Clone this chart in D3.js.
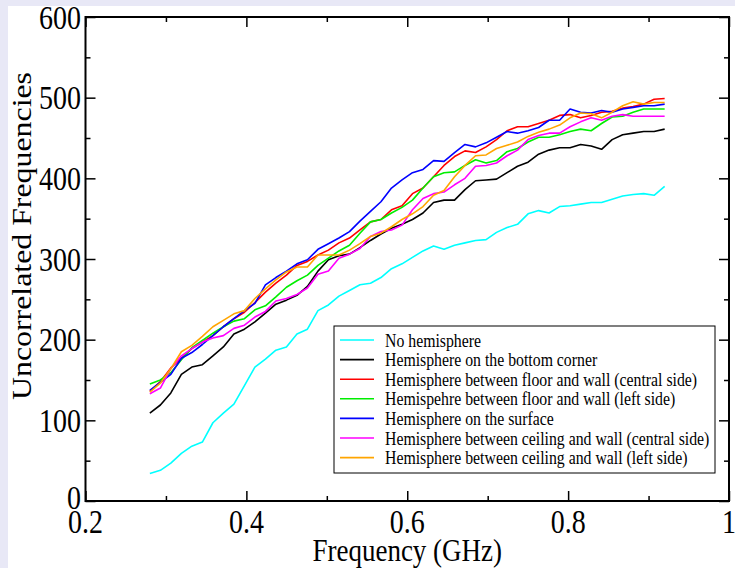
<!DOCTYPE html>
<html>
<head>
<meta charset="utf-8">
<script src="https://cdn.jsdelivr.net/npm/d3@7"></script>
<style>
  html, body { margin: 0; padding: 0; background: #e8e8f6; }
  svg { display: block; }
</style>
</head>
<body>
<div id="chart"></div>
<script>
// ---- data ----
const freqs = [0.2800, 0.2931, 0.3061, 0.3192, 0.3322, 0.3453, 0.3584, 0.3714, 0.3845, 0.3976,
  0.4106, 0.4237, 0.4367, 0.4498, 0.4629, 0.4759, 0.4890, 0.5020, 0.5151, 0.5282,
  0.5412, 0.5543, 0.5673, 0.5804, 0.5935, 0.6065, 0.6196, 0.6327, 0.6457, 0.6588,
  0.6718, 0.6849, 0.6980, 0.7110, 0.7241, 0.7371, 0.7502, 0.7633, 0.7763, 0.7894,
  0.8024, 0.8155, 0.8286, 0.8416, 0.8547, 0.8678, 0.8808, 0.8939, 0.9069, 0.9200];

const noHemisphere = [34, 38, 47, 59, 68, 73, 97, 109, 120, 143,
  166, 176, 187, 191, 207, 213, 236, 243, 254, 261,
  268, 270, 277, 288, 294, 302, 310, 316, 312, 317,
  320, 323, 324, 333, 339, 343, 356, 360, 357, 365,
  366, 368, 370, 370, 374, 378, 380, 381, 379, 390];

const bottomCorner = [109, 119, 134, 157, 166, 169, 180, 191, 207, 213,
  222, 233, 244, 249, 255, 266, 285, 299, 304, 306,
  314, 323, 331, 338, 343, 349, 357, 370, 373, 373,
  386, 397, 398, 399, 407, 415, 420, 430, 435, 438,
  438, 442, 440, 436, 448, 454, 456, 458, 458, 461];

const floorCentral = [136, 148, 165, 177, 189, 197, 205, 216, 226, 234,
  246, 259, 270, 280, 292, 297, 305, 311, 320, 326,
  336, 346, 349, 361, 366, 381, 388, 402, 416, 427,
  434, 432, 439, 448, 459, 464, 464, 468, 472, 478,
  479, 475, 478, 482, 483, 487, 489, 492, 498, 499];

const floorLeft = [145, 150, 159, 175, 190, 199, 208, 216, 223, 226,
  237, 242, 253, 265, 273, 280, 292, 301, 310, 317,
  332, 346, 349, 357, 364, 373, 388, 402, 407, 408,
  416, 423, 419, 422, 433, 437, 445, 451, 451, 454,
  458, 461, 459, 468, 476, 477, 482, 486, 486, 486];

const onSurface = [137, 147, 157, 177, 184, 194, 205, 216, 226, 236,
  245, 268, 277, 285, 294, 299, 312, 319, 326, 334,
  347, 359, 371, 388, 398, 407, 411, 422, 421, 432,
  442, 439, 444, 451, 458, 456, 459, 463, 472, 472,
  486, 482, 481, 484, 482, 486, 488, 490, 490, 492];

const ceilingCentral = [133, 140, 164, 180, 189, 197, 202, 205, 214, 218,
  228, 235, 248, 251, 256, 264, 281, 285, 301, 306,
  313, 328, 334, 336, 342, 361, 375, 381, 383, 392,
  400, 415, 416, 419, 428, 435, 448, 453, 456, 456,
  464, 470, 475, 472, 477, 479, 477, 477, 477, 477];

const ceilingLeft = [135, 146, 164, 185, 193, 204, 216, 224, 232, 236,
  251, 263, 274, 284, 290, 290, 305, 305, 305, 311,
  319, 328, 332, 340, 349, 356, 365, 379, 385, 402,
  416, 428, 429, 437, 441, 445, 452, 457, 461, 466,
  475, 481, 480, 475, 482, 490, 495, 492, 494, 494];

const seriesNames = [
  "No hemisphere",
  "Hemisphere on the bottom corner",
  "Hemisphere between floor and wall (central side)",
  "Hemispehre between floor and wall (left side)",
  "Hemisphere on the surface",
  "Hemisphere between ceiling and wall (central side)",
  "Hemisphere between ceiling and wall (left side)"
];
const seriesValues = [noHemisphere, bottomCorner, floorCentral, floorLeft, onSurface, ceilingCentral, ceilingLeft];
const seriesColors = ["#00ffff", "#000000", "#ff0000", "#00ee00", "#0000ff", "#ff00ff", "#ffa500"];

const xTicks = [0.2, 0.4, 0.6, 0.8, 1];
const xMinor = [0.3, 0.5, 0.7, 0.9];
const yTicks = [0, 100, 200, 300, 400, 500, 600];
const yMinor = [50, 150, 250, 350, 450, 550];

// ---- layout ----
const W = 735, H = 568;
const plotL = 85.5, plotR = 729, plotT = 17, plotB = 501;
const font = "'Liberation Serif', 'DejaVu Serif', serif";
const stretch = 1.18; // the original text is drawn taller than wide

const svg = d3.select("#chart").append("svg").attr("width", W).attr("height", H);

svg.append("rect").attr("x", 8).attr("y", 6).attr("width", W - 8).attr("height", H - 6).attr("fill", "#fff");

const x = d3.scaleLinear().domain([0.2, 1]).range([plotL, plotR]);
const y = d3.scaleLinear().domain([0, 600]).range([plotB, plotT]);

// data lines (drawn first, frame over them)
const line = d3.line().x((d, i) => x(freqs[i])).y(d => y(d));
seriesValues.forEach((vals, k) => {
  svg.append("path")
    .datum(vals)
    .attr("d", line)
    .attr("fill", "none")
    .attr("stroke", seriesColors[k])
    .attr("stroke-width", 1.6)
    .attr("stroke-linejoin", "round");
});

// inward ticks on all four sides
function tickAxis(axisFn, scale, ticks, size, pos) {
  const g = svg.append("g").attr("transform", pos)
    .call(axisFn(scale).tickValues(ticks).tickSize(size).tickFormat(""));
  g.select(".domain").remove();
  g.selectAll(".tick line").attr("stroke", "#000").attr("stroke-width", 1.5);
}
tickAxis(d3.axisTop, x, xTicks, 10, `translate(0,${plotB})`);
tickAxis(d3.axisTop, x, xMinor, 5, `translate(0,${plotB})`);
tickAxis(d3.axisBottom, x, xTicks, 10, `translate(0,${plotT})`);
tickAxis(d3.axisBottom, x, xMinor, 5, `translate(0,${plotT})`);
tickAxis(d3.axisRight, y, yTicks, 10, `translate(${plotL},0)`);
tickAxis(d3.axisRight, y, yMinor, 5, `translate(${plotL},0)`);
tickAxis(d3.axisLeft, y, yTicks, 10, `translate(${plotR},0)`);
tickAxis(d3.axisLeft, y, yMinor, 5, `translate(${plotR},0)`);

// tick labels
const fmtX = d => d === 1 ? "1" : d3.format(".1f")(d);
svg.append("g").selectAll("text").data(xTicks).join("text")
  .attr("transform", d => `translate(${x(d)},521) scale(1,${stretch})`)
  .attr("text-anchor", "middle").attr("dy", "0.35em")
  .attr("font-family", font).attr("font-size", 28)
  .text(fmtX);

svg.append("g").selectAll("text").data(yTicks).join("text")
  .attr("transform", d => `translate(81,${d === 0 ? y(d) - 4 : y(d)}) scale(1,${stretch})`)
  .attr("text-anchor", "end").attr("dy", "0.35em")
  .attr("font-family", font).attr("font-size", 28)
  .text(d3.format("d"));

// frame
svg.append("rect")
  .attr("x", plotL).attr("y", plotT)
  .attr("width", plotR - plotL).attr("height", plotB - plotT)
  .attr("fill", "none").attr("stroke", "#000").attr("stroke-width", 2);

// axis titles
svg.append("text")
  .attr("transform", `translate(${(plotL + plotR) / 2},561) scale(1,${stretch})`)
  .attr("text-anchor", "middle")
  .attr("font-family", font).attr("font-size", 27)
  .text("Frequency (GHz)");

svg.append("text")
  .attr("transform", `translate(31,236) scale(1,${stretch}) rotate(-90)`)
  .attr("text-anchor", "middle")
  .attr("font-family", font).attr("font-size", 27)
  .text("Uncorrelated Frequencies");

// legend
const lg = svg.append("g").attr("transform", "translate(334,326)");
lg.append("rect")
  .attr("width", 381).attr("height", 147)
  .attr("fill", "#fff").attr("stroke", "#000").attr("stroke-width", 1);
seriesNames.forEach((name, k) => {
  const cy = 14 + k * 19.6;
  lg.append("line")
    .attr("x1", 6).attr("x2", 40).attr("y1", cy).attr("y2", cy)
    .attr("stroke", seriesColors[k]).attr("stroke-width", 1.6);
  lg.append("text")
    .attr("transform", `translate(51,${cy}) scale(1,${stretch})`)
    .attr("dy", "0.35em")
    .attr("font-family", font).attr("font-size", 15.8)
    .text(name);
});
</script>
</body>
</html>
